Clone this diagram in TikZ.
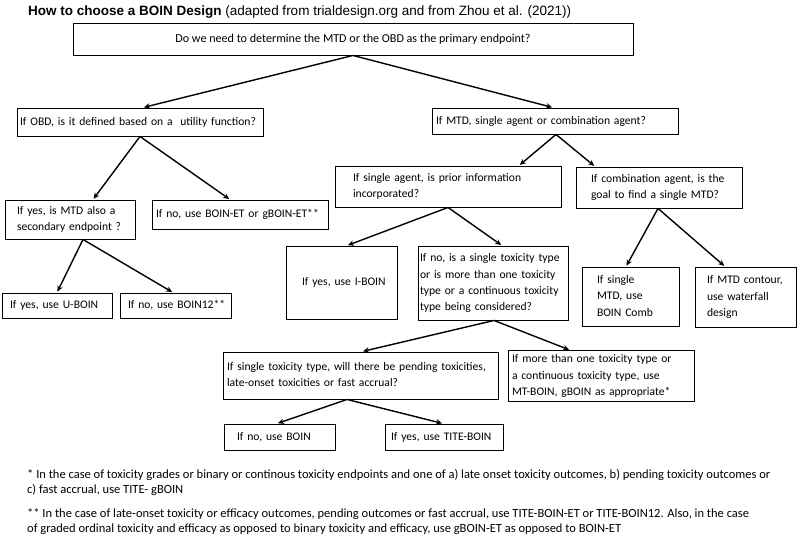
\documentclass[tikz,border=0pt]{standalone}
\usepackage{fontspec}
\setmainfont{Carlito}
\newfontfamily\titlefont{Liberation Sans}
\usetikzlibrary{arrows.meta}

% lines of a box, never re-broken
\newcommand{\boxlines}[1]{\begin{tabular}{@{}l@{}}#1\end{tabular}}

\tikzset{
	qbox/.style = {draw, line width=.9pt, align=left, inner ysep=1pt, font=\fontsize{11.6}{16.3}\selectfont},
	branch/.style = {-{Stealth[length=6pt,width=5.5pt]}, line width=1.4pt, shorten >=1pt},
	footnote/.style = {anchor=west, inner sep=0pt, align=left, font=\fontsize{12.5}{15}\selectfont}
}

\begin{document}
\begin{tikzpicture}[x=1pt, y=-1pt]
	\useasboundingbox (0,0) rectangle (797,536);
	
	\node[anchor=west, inner sep=0pt, font=\titlefont\fontsize{13.5}{15}\selectfont] (title) at (28,12)
		{\textbf{How to choose a BOIN Design} (adapted from trialdesign.org and from Zhou et al. (2021))};
	
	% first question
	\node[qbox, align=center, minimum width=560pt, minimum height=32pt, font=\fontsize{12.1}{16.3}\selectfont] (endpoint) at (353,39)
		{Do we need to determine the MTD or the OBD as the primary endpoint?};
	
	% OBD side
	\node[qbox, text width=240pt, inner xsep=3pt, minimum height=28pt] (obd) at (140,122)
		{\boxlines{If OBD, is it defined based on a\ \ utility function?}};
	\node[qbox, text width=106pt, inner xsep=12pt, minimum height=39pt] (secondary) at (70,219.5)
		{\boxlines{If yes, is MTD also a\\ secondary endpoint ?}};
	\node[qbox, text width=168pt, inner xsep=4pt, minimum height=29pt] (boinet) at (240,214.5)
		{\boxlines{If no, use BOIN-ET or gBOIN-ET**}};
	\node[qbox, text width=94pt, inner xsep=8pt, minimum height=25pt] (uboin) at (57,305.5)
		{\boxlines{If yes, use U-BOIN}};
	\node[qbox, text width=95pt, inner xsep=8pt, minimum height=25pt] (boin12) at (175.5,305.5)
		{\boxlines{If no, use BOIN12**}};
	
	% MTD side
	\node[qbox, text width=238pt, inner xsep=4pt, minimum height=26pt] (mtd) at (555,121)
		{\boxlines{If MTD, single agent or combination agent?}};
	\node[qbox, text width=190pt, inner xsep=18pt, minimum height=41pt] (single) at (448,186.5)
		{\boxlines{If single agent, is prior information\\ incorporated?}};
	\node[qbox, text width=136pt, inner xsep=15pt, minimum height=41pt] (combination) at (659,187.5)
		{\boxlines{If combination agent, is the\\ goal to find a single MTD?}};
	\node[qbox, text width=79pt, inner xsep=16pt, minimum height=73pt] (iboin) at (341.5,282.5)
		{\boxlines{If yes, use I-BOIN}};
	\node[qbox, text width=146pt, inner xsep=2pt, minimum height=74pt] (toxtype) at (493,283)
		{\boxlines{If no, is a single toxicity type\\ or is more than one toxicity\\ type or a continuous toxicity\\ type being considered?}};
	\node[qbox, text width=67pt, inner xsep=15pt, minimum height=59pt] (boincomb) at (630.5,296.5)
		{\boxlines{If single\\ MTD, use\\ BOIN Comb}};
	\node[qbox, text width=77pt, inner xsep=12pt, minimum height=60pt] (waterfall) at (745.5,297)
		{\boxlines{If MTD contour,\\ use waterfall\\ design}};
	\node[qbox, text width=267pt, inner xsep=4pt, minimum height=47pt] (singletox) at (360.5,375.5)
		{\boxlines{If single toxicity type, will there be pending toxicities,\\ late-onset toxicities or fast accrual?}};
	\node[qbox, text width=178pt, inner xsep=4pt, minimum height=48pt] (mtboin) at (601,376)
		{\boxlines{If more than one toxicity type or\\ a continuous toxicity type, use\\ MT-BOIN, gBOIN as appropriate*}};
	\node[qbox, text width=85pt, inner xsep=13pt, minimum height=26pt] (boin) at (279.5,437)
		{\boxlines{If no, use BOIN}};
	\node[qbox, text width=106pt, inner xsep=6pt, minimum height=26pt] (titeboin) at (444,437)
		{\boxlines{If yes, use TITE-BOIN}};
	
	% connectors
	\draw[branch] (endpoint.south) -- ([xshift=3pt]obd.north);
	\draw[branch] (endpoint.south) -- ([xshift=-2pt]mtd.north);
	\draw[branch] (obd.south) -- ([xshift=23pt]secondary.north);
	\draw[branch] (obd.south) -- ([xshift=-10pt]boinet.north);
	\draw[branch] ([xshift=13pt]secondary.south) -- (uboin.north);
	\draw[branch] ([xshift=13pt]secondary.south) -- ([xshift=-2.5pt]boin12.north);
	\draw[branch] ([xshift=1pt]mtd.south) -- ([xshift=71pt]single.north);
	\draw[branch] ([xshift=1pt]mtd.south) -- ([xshift=-64pt]combination.north);
	\draw[branch] (single.south) -- ([xshift=5.5pt]iboin.north);
	\draw[branch] (single.south) -- ([xshift=9pt]toxtype.north);
	\draw[branch] ([xshift=-1pt]combination.south) -- ([xshift=-4.5pt]boincomb.north);
	\draw[branch] ([xshift=-1pt]combination.south) -- ([xshift=-20.5pt]waterfall.north);
	\draw[branch] ([xshift=1pt]toxtype.south) -- ([xshift=1.5pt]singletox.north);
	\draw[branch] ([xshift=1pt]toxtype.south) -- ([xshift=-31pt]mtboin.north);
	\draw[branch] ([xshift=-13.5pt]singletox.south) -- ([xshift=-2.5pt]boin.north);
	\draw[branch] ([xshift=-13.5pt]singletox.south) -- ([xshift=-1pt]titeboin.north);
	
	% footnotes
	\node[footnote] (noteone) at (27,482.5)
		{* In the case of toxicity grades or binary or continous toxicity endpoints and one of a) late onset toxicity outcomes, b) pending toxicity outcomes or\\ c) fast accrual, use TITE- gBOIN};
	\node[footnote] (notetwo) at (27,521.5)
		{** In the case of late-onset toxicity or efficacy outcomes, pending outcomes or fast accrual, use TITE-BOIN-ET or TITE-BOIN12. Also, in the case\\ of graded ordinal toxicity and efficacy as opposed to binary toxicity and efficacy, use gBOIN-ET as opposed to BOIN-ET};
\end{tikzpicture}
\end{document}
